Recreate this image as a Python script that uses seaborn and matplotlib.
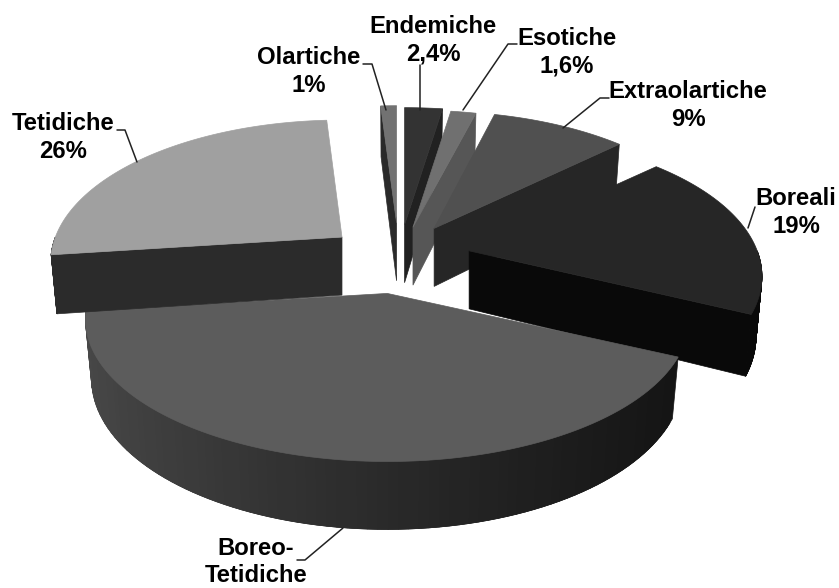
import numpy as np
import seaborn as sns
import matplotlib.pyplot as plt
from matplotlib.colors import to_rgb

# Data, clockwise from 12 o'clock
categories = ['Endemiche', 'Esotiche', 'Extraolartiche', 'Boreali', 'Boreo-Tetidiche', 'Tetidiche', 'Olartiche']
values = [2.4, 1.6, 9, 19, 41, 26, 1]

# Styles per slice
top_colors = ['#333333', '#707070', '#505050', '#262626', '#5c5c5c', '#a0a0a0', '#727272']
side_colors = ['#212121', '#565656', '#262626', '#090909', '#2a2a2a', '#2b2b2b', '#2a2a2a']
explode = [74, 70, 69, 71, 75, 74, 78]
x_scale = [1, 1, 0.96, 0.97, 1, 0.965, 1]
y_nudge = [0, 0, -3, -3, 0, 0, 0]
draw_order = [6, 0, 1, 2, 3, 4, 5]
side_edge = ['end', 'end', 'end', 'end', None, 'start', 'start']

# View settings of the fake 3D pie
cx, cy = 399, 259
rx, ry = 297, 138
persp = 0.179
depth = 58
shrink = 0.98

sns.set_theme(style='white')
plt.rcParams['font.family'] = ['Liberation Sans', 'DejaVu Sans']

fig, ax = plt.subplots(figsize=(8.39, 5.88), dpi=100)
ax.set_position([0, 0, 1, 1])
ax.set_xlim(0, 839)
ax.set_ylim(588, 0)
ax.axis('off')


def project(theta, ax0, ay0, scale=1, bottom=False):
    theta = np.asarray(theta)
    sx, sy = np.sin(theta), np.cos(theta)
    w = 1 + persp * sy
    x = scale * rx * sx / w
    y = -ry * sy / w
    if bottom:
        return ax0 + x * shrink, ay0 + y + depth / w ** 0.8
    return ax0 + x, ay0 + y


shares = np.array(values) / sum(values) * 2 * np.pi
ends = np.cumsum(shares)
starts = ends - shares

for i in draw_order:
    t0, t1 = starts[i], ends[i]
    mid = (t0 + t1) / 2
    s = x_scale[i]
    ax0 = cx + explode[i] * np.sin(mid)
    ay0 = cy - explode[i] * ry / rx * np.cos(mid) + y_nudge[i]

    # cut face
    if side_edge[i]:
        t = t1 if side_edge[i] == 'end' else t0
        ox, oy = project(t, ax0, ay0, s)
        bx, by = project(t, ax0, ay0, s, bottom=True)
        ax.fill([ax0, ox, bx, ax0], [ay0, oy, by, ay0 + depth], color=side_colors[i], lw=0.5)

    # outer rim, only the part facing the viewer; strips overlap so no seams show
    lo, hi = max(t0, np.pi / 2), min(t1, 3 * np.pi / 2)
    if hi > lo:
        edges = np.linspace(lo, hi, 90)
        for a, b in zip(edges[:-1], np.r_[edges[2:], hi]):
            tx, ty = project([a, b], ax0, ay0, s)
            ux, uy = project([b, a], ax0, ay0, s, bottom=True)
            color = side_colors[i]
            if categories[i] == 'Boreo-Tetidiche':
                f = np.clip((tx[0] - 85) / 590, 0, 1) ** 0.8
                left, right = np.array(to_rgb('#484848')), np.array(to_rgb('#151515'))
                color = tuple(left + (right - left) * f)
            ax.fill(list(tx) + list(ux), list(ty) + list(uy), color=color, lw=0.5)

    # top face
    arc = np.linspace(t0, t1, 120)
    ox, oy = project(arc, ax0, ay0, s)
    ax.fill(np.r_[ax0, ox], np.r_[ay0, oy], color=top_colors[i], lw=0.5)

# Labels and leader lines
label_texts = ['Olartiche\n1%', 'Endemiche\n2,4%', 'Esotiche\n1,6%', 'Extraolartiche\n9%',
               'Boreali\n19%', 'Tetidiche\n26%', 'Boreo-\nTetidiche']
label_x = [309, 433, 567, 688, 796, 63, 256]
label_y = [71.5, 40, 52, 105.5, 212.5, 137.5, 562]
leader_x = [[363, 372, 386], [420, 420], [517, 508, 463], [609, 600, 563], [755, 748], [117, 125, 137], [297, 305, 343]]
leader_y = [[64, 64, 110], [65, 110], [44, 44, 110], [98, 98, 128], [207, 228], [130, 130, 162], [560, 560, 528]]

for lx, ly in zip(leader_x, leader_y):
    ax.plot(lx, ly, color='#222222', lw=1.1)
for text, x, y in zip(label_texts, label_x, label_y):
    ax.text(x, y, text, ha='center', va='center', fontsize=17.2, fontweight='bold',
            color='black', linespacing=1.27)

fig.savefig('out.png', dpi=100)
